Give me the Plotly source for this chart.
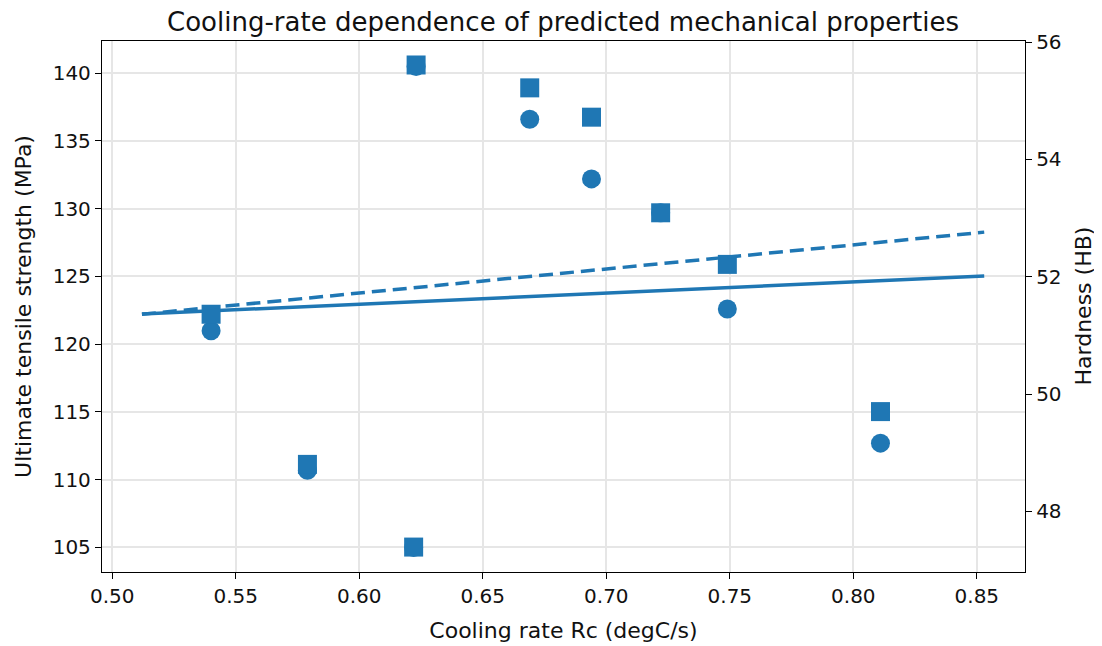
import plotly.graph_objects as go

# Data
cooling_rate = [0.540, 0.579, 0.622, 0.623, 0.669, 0.694, 0.722, 0.749, 0.811]
uts_mpa = [121.0, 110.7, 105.0, 140.5, 136.6, 132.2, 129.7, 122.6, 112.7]
hardness_hb = [51.36, 48.80, 47.39, 55.61, 55.22, 54.72, 53.09, 52.21, 49.70]

trend_x = [0.512, 0.853]
uts_trend = [122.23, 125.03]
hb_trend = [51.36, 52.76]

x_ticks = [0.50, 0.55, 0.60, 0.65, 0.70, 0.75, 0.80, 0.85]
uts_ticks = [105, 110, 115, 120, 125, 130, 135, 140]
hb_ticks = [48, 50, 52, 54, 56]

BLUE = "#1f77b4"
FONT = "DejaVu Sans"
TXT = "#111111"

fig = go.Figure()
fig.add_trace(go.Scatter(x=cooling_rate, y=uts_mpa, mode="markers",
                         marker=dict(symbol="circle", size=19, color=BLUE),
                         name="UTS", yaxis="y"))
fig.add_trace(go.Scatter(x=trend_x, y=uts_trend, mode="lines",
                         line=dict(color=BLUE, width=3.5),
                         name="UTS trend", yaxis="y"))
fig.add_trace(go.Scatter(x=cooling_rate, y=hardness_hb, mode="markers",
                         marker=dict(symbol="square", size=19, color=BLUE),
                         name="Hardness", yaxis="y2"))
fig.add_trace(go.Scatter(x=trend_x, y=hb_trend, mode="lines",
                         line=dict(color=BLUE, width=3.5, dash="14px,7px"),
                         name="Hardness trend", yaxis="y2"))

axis_common = dict(showline=True, linecolor="black", linewidth=1.3,
                   ticks="outside", ticklen=6, tickwidth=1.3, tickcolor="black",
                   tickfont=dict(family=FONT, size=20, color=TXT),
                   zeroline=False, automargin=False)

# page body has an 8px default margin: figure is placed at (8, 8)
W, H = 1094, 638
ML, MR, MT, MB = 94, 77, 33, 74
plot_w = W - ML - MR

fig.update_layout(
    width=W, height=H,
    margin=dict(l=ML, r=MR, t=MT, b=MB, autoexpand=False),
    paper_bgcolor="white", plot_bgcolor="white",
    showlegend=False,
    font=dict(family=FONT, color=TXT),
    title=dict(text="Cooling-rate dependence of predicted mechanical properties",
               x=(563 - 8) / W, xanchor="center",
               y=1 - (22 - 8) / H, yanchor="middle",
               font=dict(family=FONT, size=26, color=TXT)),
    xaxis=dict(range=[0.49583, 0.86951], tickvals=x_ticks,
               ticktext=[f"{v:.2f}" for v in x_ticks],
               showgrid=True, gridcolor="#e6e6e6", gridwidth=1.5, mirror=True,
               title=dict(text="Cooling rate Rc (degC/s)", standoff=15,
                          font=dict(family=FONT, size=22, color=TXT)),
               **axis_common),
    yaxis=dict(range=[103.19, 142.376], tickvals=uts_ticks,
               showgrid=True, gridcolor="#e6e6e6", gridwidth=1.5,
               title=dict(text="Ultimate tensile strength (MPa)", standoff=14,
                          font=dict(family=FONT, size=22, color=TXT)),
               **axis_common),
    yaxis2=dict(range=[46.965, 56.019], tickvals=hb_ticks, overlaying="y",
                side="right", showgrid=False, **axis_common),
    annotations=[dict(text="Hardness (HB)", textangle=-90, showarrow=False,
                      xref="paper", yref="paper",
                      x=(1083 - 8 - ML) / plot_w, y=0.5,
                      xanchor="center", yanchor="middle",
                      font=dict(family=FONT, size=22, color=TXT))],
)

fig.write_html("out.html")
